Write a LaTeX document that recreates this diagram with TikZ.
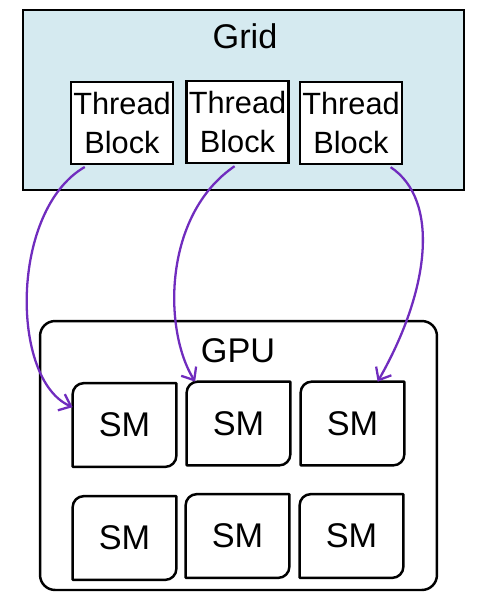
\documentclass[tikz,border=0pt]{standalone}
\usepackage{fontspec}
\setmainfont{Liberation Sans}
\usetikzlibrary{arrows.meta, positioning, calc}
\definecolor{GridBlue}{RGB}{213,234,240}
\definecolor{MapPurple}{RGB}{112,44,190}

\begin{document}
\begin{tikzpicture}[x=0.02cm, y=-0.02cm,
	blk/.style={rectangle, draw=black, line width=1.4pt, fill=white,
		minimum width=2.04cm, minimum height=1.64cm, inner sep=0pt,
		align=center, font=\fontsize{17.5}{22.5}\selectfont},
	smbox/.style={rectangle, minimum width=2.06cm, minimum height=1.66cm,
		inner sep=0pt, font=\fontsize{19.5}{23}\selectfont},
	smline/.style={line width=1.4pt, line join=round},
	lbl/.style={font=\fontsize{19.5}{23}\selectfont},
	maparrow/.style={MapPurple, line width=1.3pt,
		-{Straight Barb[length=6pt, width=10pt]}, shorten <=2pt}]
	\useasboundingbox (0,0) rectangle (484,600);
	% grid of thread blocks
	\node[draw=black, line width=1.2pt, fill=GridBlue, minimum width=8.82cm,
		minimum height=3.6cm, inner sep=0pt] (grid) at (243.5,100) {};
	\node[lbl] (gridlbl) at (245,36) {Grid};
	\foreach \i/\x/\y in {1/122/123, 2/237.5/122, 3/351/123}
		{\node[blk] (tb\i) at (\x,\y) {Thread\\Block};}
	% gpu with its SMs
	\node[draw=black, line width=1.4pt, rounded corners=0.3cm, minimum width=7.94cm,
		minimum height=5.38cm, inner sep=0pt] (gpu) at (238.5,455.5) {};
	\node[lbl] (gpulbl) at (238,351) {GPU};
	\foreach \i/\x/\y in {1/124.5/425, 2/238.5/423.5, 3/352.5/423.5,
		4/124.5/538, 5/237.5/536, 6/351.5/536}{
		\node[smbox] (sm\i) at (\x,\y) {SM};
		\draw[smline] (sm\i.west) [rounded corners=0.22cm] -- (sm\i.north west)
			-- (sm\i.north) [sharp corners] -- (sm\i.north east) -- (sm\i.east)
			[rounded corners=0.22cm] -- (sm\i.south east) -- (sm\i.south)
			[sharp corners] -- (sm\i.south west) -- cycle;}
	% block -> SM
	\draw[maparrow] (tb1.-129) .. controls (10,210) and (10,380) .. (sm1.161);
	\draw[maparrow] (tb2.south) .. controls (163,215) and (163,330) .. (sm2.136);
	\draw[maparrow] (tb3.-49) .. controls (440,200) and (430,290) .. (sm3.59);
\end{tikzpicture}
\end{document}
